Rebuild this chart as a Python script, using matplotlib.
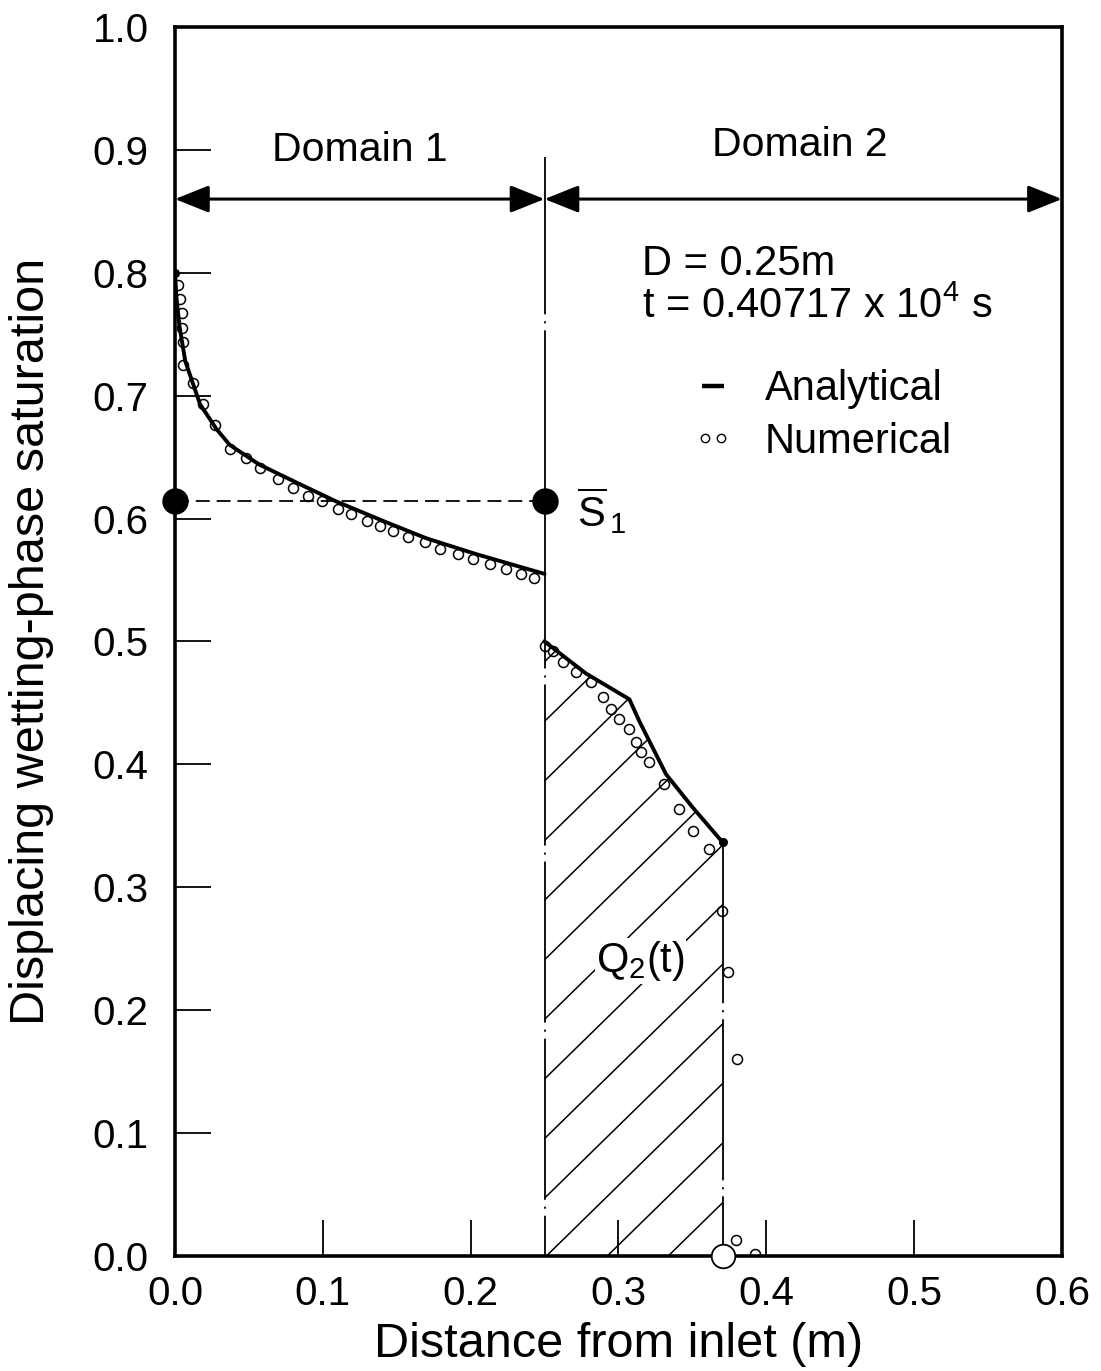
import numpy as np
import matplotlib
matplotlib.use("Agg")
import matplotlib.pyplot as plt
from matplotlib.lines import Line2D
from matplotlib.legend_handler import HandlerLine2D

plt.rcParams['font.family'] = ['Liberation Sans', 'DejaVu Sans']
plt.rcParams['mathtext.fontset'] = 'custom'
plt.rcParams['mathtext.rm'] = 'Liberation Sans'
plt.rcParams['mathtext.it'] = 'Liberation Sans'
plt.rcParams['mathtext.bf'] = 'Liberation Sans:bold'
plt.rcParams['lines.scale_dashes'] = False

# ---------------- data ----------------
# analytical solution, domain 1
xa1 = [0.0, 0.001, 0.003, 0.007, 0.017, 0.028, 0.037, 0.057, 0.0845, 0.109, 0.143, 0.170, 0.204, 0.250]
ya1 = [0.800, 0.780, 0.757, 0.728, 0.693, 0.673, 0.660, 0.644, 0.628, 0.614, 0.597, 0.584, 0.571, 0.555]
# analytical solution, domain 2
xa2 = [0.250, 0.278, 0.3074, 0.3142, 0.3322, 0.3502, 0.3705]
ya2 = [0.500, 0.474, 0.453, 0.435, 0.392, 0.365, 0.3366]
# numerical solution, domain 1
xn1 = [0.0023, 0.0034, 0.0045, 0.0045, 0.0056, 0.0056, 0.0124, 0.0191, 0.0270, 0.0372,
       0.0484, 0.0574, 0.0698, 0.0800, 0.0901, 0.0992, 0.1104, 0.1194, 0.1296, 0.1385,
       0.1475, 0.1577, 0.1689, 0.1791, 0.1914, 0.2016, 0.2128, 0.2241, 0.2343, 0.2432]
yn1 = [0.790, 0.779, 0.767, 0.755, 0.744, 0.725, 0.710, 0.693, 0.676, 0.657,
       0.649, 0.641, 0.632, 0.625, 0.618, 0.614, 0.608, 0.604, 0.598, 0.594,
       0.590, 0.585, 0.581, 0.575, 0.571, 0.567, 0.563, 0.559, 0.555, 0.552]
# numerical solution, domain 2
xn2 = [0.2500, 0.2556, 0.2624, 0.2714, 0.2816, 0.2894, 0.2951, 0.3007, 0.3074, 0.3120,
       0.3153, 0.3209, 0.3311, 0.3412, 0.3502, 0.3610, 0.3698, 0.3740, 0.3800, 0.3795, 0.3926]
yn2 = [0.496, 0.492, 0.483, 0.475, 0.467, 0.455, 0.445, 0.437, 0.429, 0.418,
       0.410, 0.402, 0.384, 0.364, 0.346, 0.331, 0.281, 0.231, 0.160, 0.013, 0.002]
# mean saturation of domain 1
s1_bar = 0.614
D_len = 0.25
x_max = 0.6
domain_labels = ["Domain 1", "Domain 2"]
legend_labels = ["Analytical", "Numerical"]
xticks = [0.0, 0.1, 0.2, 0.3, 0.4, 0.5, 0.6]
yticks = [0.0, 0.1, 0.2, 0.3, 0.4, 0.5, 0.6, 0.7, 0.8, 0.9, 1.0]

# ---------------- figure ----------------
fig = plt.figure(figsize=(11.01, 13.71), dpi=100)
ax = fig.add_axes([0.1589, 0.0839, 0.8056, 0.8964])
ax.set_xlim(0, 0.6)
ax.set_ylim(0, 1.0)

x_front = xa2[-1]

# hatched region Q2(t)
poly = ax.fill_between(xa2, 0, ya2, facecolor='none', edgecolor='none')
clip = poly.get_paths()[0]
hslope = 1.177
hx = np.array([D_len, x_front])
for y0 in 0.047 + 0.0485 * np.arange(-4, 11):
    ln, = ax.plot(hx, y0 + hslope * (hx - D_len), color='k', lw=1.1, zorder=2)
    ln.set_clip_path(clip, ax.transData)

# boundary dash-dot lines
ax.plot([D_len, D_len], [0, 0.894], color='k', lw=1.3, zorder=3,
        linestyle=(87.0, (116.0, 5.0, 1.5, 5.0)))
ax.plot([x_front, x_front], [0, ya2[-1]], color='k', lw=1.3, zorder=3,
        linestyle=(73.0, (116.0, 5.0, 1.5, 5.0)))

# numerical
ax.plot(xn1, yn1, linestyle='none', marker='o', ms=7.2, mfc='none', mec='k', mew=1.1, zorder=4)
ax.plot(xn2, yn2, linestyle='none', marker='o', ms=7.2, mfc='none', mec='k', mew=1.1, zorder=4)

# analytical
ax.plot(xa1, ya1, color='k', lw=2.8, zorder=5, solid_capstyle='round')
ax.plot(xa2, ya2, color='k', lw=2.8, zorder=5, solid_joinstyle='miter')
ax.plot([xa1[0], xa2[-1]], [ya1[0], ya2[-1]], linestyle='none', marker='o', ms=5.5,
        color='k', zorder=6)

# mean saturation
ax.plot([0, D_len], [s1_bar, s1_bar], color='k', lw=1.3, linestyle=(0, (10, 5)), zorder=5)
ax.plot([0, D_len], [s1_bar, s1_bar], linestyle='none', marker='o', ms=18, color='k',
        zorder=7, clip_on=False)
ax.plot([x_front], [0], linestyle='none', marker='o', ms=17, mfc='white', mec='k',
        mew=1.3, zorder=7, clip_on=False)

# domain arrows
arr = dict(arrowstyle='<|-|>,head_length=0.7,head_width=0.28', lw=2.2, color='k',
           shrinkA=0, shrinkB=0, mutation_scale=30)
ax.annotate('', xy=(0, 0.86), xytext=(D_len, 0.86), arrowprops=arr, zorder=6)
ax.annotate('', xy=(D_len, 0.86), xytext=(x_max, 0.86), arrowprops=arr, zorder=6)
ax.text(0.125, 0.900, domain_labels[0], fontsize=29.5, ha='center', va='center')
ax.text(0.423, 0.904, domain_labels[1], fontsize=29.5, ha='center', va='center')

# annotations
ax.text(0.316, 0.807, 'D = 0.25m', fontsize=30, ha='left', va='center')
ax.text(0.316, 0.772, r't = 0.40717 x 10$^{4}$ s', fontsize=30, ha='left', va='center')
ax.text(0.272, 0.606, r'$\overline{\mathrm{S}}_{\,1}$', fontsize=30, ha='left', va='center')
ax.text(0.285, 0.231, r'Q$_{2}$(t)', fontsize=30, ha='left', va='baseline', zorder=4,
        bbox=dict(facecolor='white', edgecolor='none', pad=1))

# legend
handles = [Line2D([], [], linestyle='none', marker='_', ms=16, mew=3.2, color='k'),
           Line2D([], [], linestyle='none', marker='o', ms=6, mfc='none', mec='k', mew=1.0)]
leg = ax.legend(handles, legend_labels, loc='upper left',
                bbox_to_anchor=(0.583, 0.7215), frameon=False, fontsize=30,
                handlelength=1.0, handletextpad=0.75, labelspacing=0.3,
                borderpad=0, borderaxespad=0, numpoints=2,
                handler_map={handles[0]: HandlerLine2D(numpoints=1)})

# axes styling
for s in ax.spines.values():
    s.set_linewidth(2.6)
ax.set_xticks(xticks)
ax.set_yticks(yticks)
ax.set_xticklabels([f'{v:.1f}' for v in xticks])
ax.set_yticklabels([f'{v:.1f}' for v in yticks])
ax.tick_params(axis='both', direction='in', length=26, width=1.3, labelsize=29,
               top=False, right=False)
ax.tick_params(axis='y', pad=19)
ax.tick_params(axis='x', pad=14)
ax.set_xlabel('Distance from inlet (m)', fontsize=35, labelpad=6)
ax.set_ylabel('Displacing wetting-phase saturation', fontsize=35, labelpad=28)

fig.savefig('out.png', dpi=100)
